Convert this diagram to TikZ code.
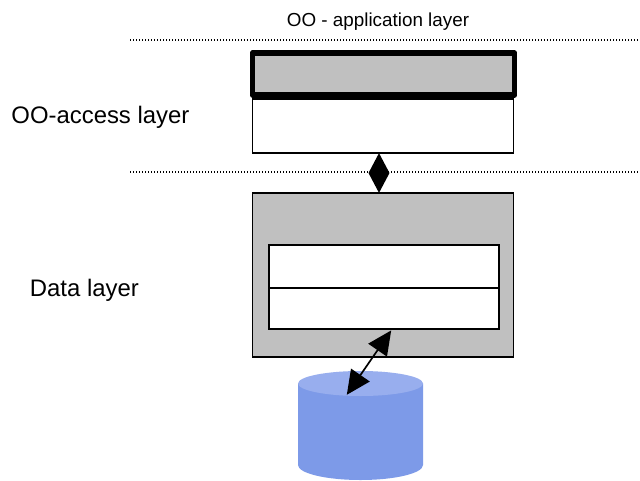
\documentclass[tikz,border=0pt]{standalone}
\usepackage{fontspec}
\setmainfont{Liberation Sans}
\usetikzlibrary{shapes.geometric,arrows.meta}
\definecolor{layergray}{RGB}{192,192,192}
\definecolor{dbblue}{RGB}{125,154,232}
\definecolor{dbtop}{RGB}{152,174,238}
\tikzset{
    layerbox/.style={draw=black,line width=1.4pt,rectangle,inner sep=0pt,outer sep=0pt},
    bigtext/.style={inner sep=0pt,font=\fontsize{17}{20}\selectfont},
    smalltext/.style={inner sep=0pt,font=\fontsize{13.4}{16}\selectfont},
    sepline/.style={line width=0.8pt,dash pattern=on 0.9pt off 1.234pt}
}
\begin{document}
\begin{tikzpicture}
        \useasboundingbox (0,0) rectangle (16,12);
        \fill[white] (0,0) rectangle (16,12);
        % dotted separators
        \coordinate (upleft) at (3.25,11);
        \coordinate (upright) at (16,11);
        \coordinate (lowleft) at (3.25,7.7);
        \coordinate (lowright) at (16,7.7);
        \draw[sepline] (upleft) -- (upright);
        \draw[sepline] (lowleft) -- (lowright);
        % access layer
        \node[layerbox,fill=white,minimum width=6.525cm,minimum height=1.35cm] (access) at (9.575,8.85) {};
        \node[layerbox,fill=layergray,line width=4pt,line join=round,minimum width=6.55cm,minimum height=1.05cm] (mapper) at (9.5875,10.15) {};
        % data layer
        \node[layerbox,fill=layergray,minimum width=6.525cm,minimum height=4.1cm] (data) at (9.575,5.125) {};
        \node[layerbox,fill=white,minimum width=5.75cm,minimum height=1.075cm] (tableup) at (9.6,5.3375) {};
        \node[layerbox,fill=white,minimum width=5.75cm,minimum height=1.025cm] (tabledown) at (9.6,4.2875) {};
        % link between layers
        \node[diamond,fill=black,inner sep=0pt,minimum width=0.53cm,minimum height=1cm,aspect=0.5] (link) at (9.475,7.675) {};
        % database
        \fill[dbblue] (7.45,2.4125) -- (7.45,0.375) arc[x radius=1.5625,y radius=0.375,start angle=180,end angle=360] -- (10.575,2.4125) -- cycle;
        \fill[dbtop] (9.0125,2.4125) ellipse[x radius=1.5625,y radius=0.3125];
        \coordinate (dbport) at (8.67,2.13);
        \coordinate (dataport) at (9.78,3.74);
        \draw[{Triangle[length=0.6cm,width=0.56cm]}-{Triangle[length=0.6cm,width=0.56cm]},line width=1.2pt] (dbport) -- (dataport);
        % labels
        \node[smalltext,anchor=center] (applabel) at (9.45,11.45) {OO - application layer};
        \node[bigtext,anchor=center] (accesslabel) at (2.51,9.07) {OO-access layer};
        \node[bigtext,anchor=center] (datalabel) at (2.11,4.75) {Data layer};
    \end{tikzpicture}
\end{document}
